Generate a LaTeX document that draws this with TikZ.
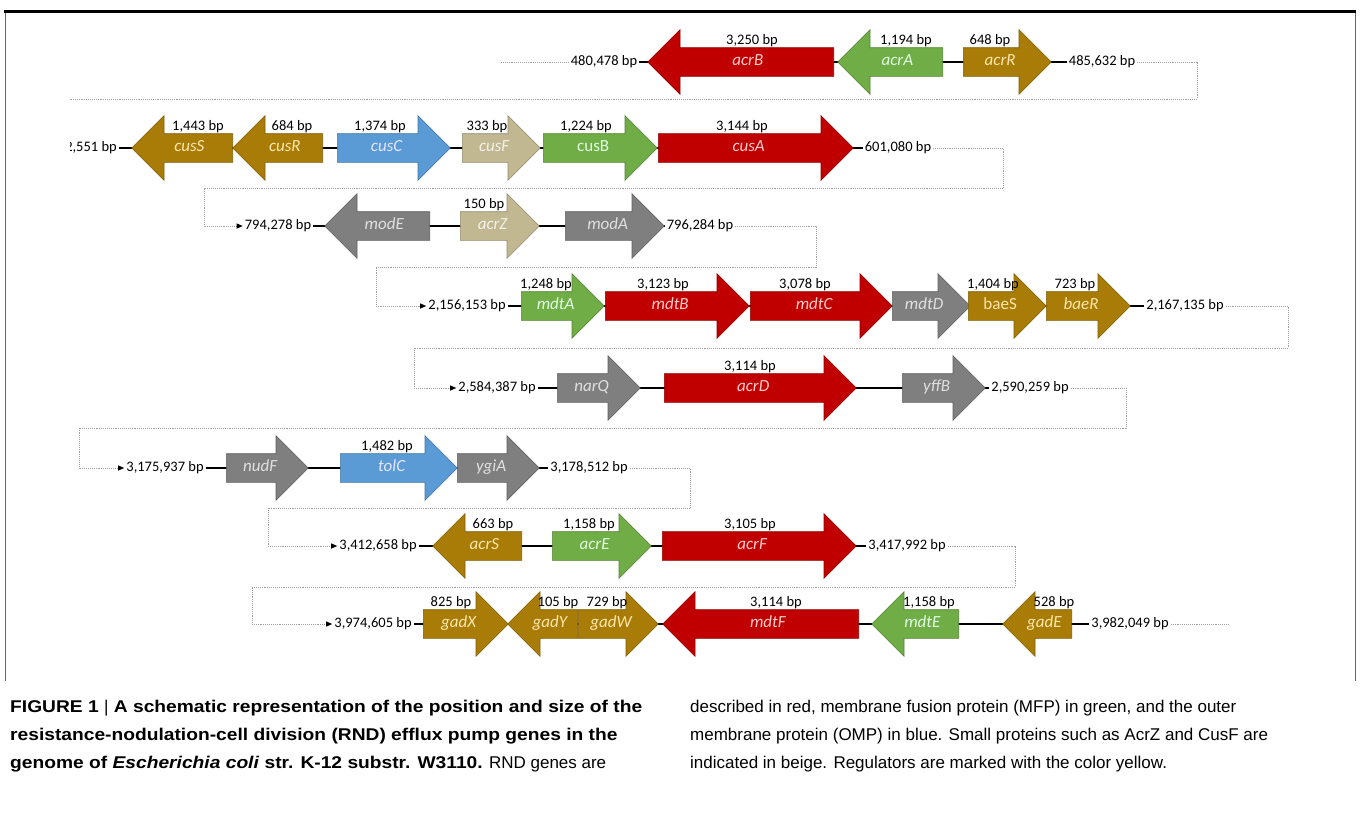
\documentclass[tikz,border=0pt]{standalone}
\usepackage{fontspec}
\setmainfont{Carlito}
\newfontfamily\capfont{Liberation Sans}[BoldFeatures={FakeStretch=1.13},BoldItalicFeatures={FakeStretch=1.13}]
\usetikzlibrary{shapes,arrows.meta,positioning}

\definecolor{rndred}{RGB}{192,0,0}
\definecolor{mfpgreen}{RGB}{112,173,71}
\definecolor{reggold}{RGB}{168,124,6}
\definecolor{ompblue}{RGB}{91,155,213}
\definecolor{smallbeige}{RGB}{193,184,146}
\definecolor{othergrey}{RGB}{127,127,127}
\definecolor{linkgrey}{RGB}{160,160,160}

\begin{document}
\begin{tikzpicture}[
    x=1pt,y=-1pt,
    every node/.style={font=\fontsize{14.5}{16}\selectfont},
    locus/.style={inner sep=2pt},
    bplabel/.style={inner sep=1pt},
    gene/.style={single arrow,single arrow head extend=18pt,minimum width=64pt,
        inner xsep=0pt,inner ysep=8pt,text height=9pt,text depth=3pt,
        anchor=tail,line width=0.6pt,font=\itshape\fontsize{17}{17}\selectfont},
    upright/.style={font=\fontsize{17}{17}\selectfont},
    back/.style={shape border rotate=180},
    rnd/.style={gene,fill=rndred,draw=rndred!75!black,text=red!20!white},
    mfp/.style={gene,fill=mfpgreen,draw=mfpgreen!75!black,text=green!12!white},
    reg/.style={gene,fill=reggold,draw=reggold!75!black,text=yellow!45!orange!30!white},
    omp/.style={gene,fill=ompblue,draw=ompblue!75!black,text=blue!10!white},
    minor/.style={gene,fill=smallbeige,draw=smallbeige!75!black,text=smallbeige!20!white},
    other/.style={gene,fill=othergrey,draw=othergrey!75!black,text=black!12},
    dna/.style={line width=2.5pt,black},
    link/.style={densely dotted,draw=linkgrey,line width=0.9pt},
    linkarrow/.style={link,-{Triangle[length=6pt,width=5pt,black]}},
    captext/.style={anchor=base west,inner sep=0pt,font=\capfont\fontsize{17}{19}\selectfont}
]
\useasboundingbox (0,0) rectangle (1360,833);

% =====================
% FRAME
% =====================
\draw[line width=0.8pt,black!60] (5,11) -- (5,681);
\draw[line width=0.8pt,black!60] (1355,11) -- (1355,681);
\draw[line width=3pt] (4,11) -- (1356,11);

% =====================
% POSITIONS
% =====================
\node[locus] (p1a) at (604,62) {480,478 bp};
\node[locus] (p1b) at (1102,62) {485,632 bp};
\begin{scope}
\clip (70,120) rectangle (200,180);
\node[locus,anchor=east] (p2a) at (119,148) {2,551 bp};
\end{scope}
\node[locus] (p2b) at (898,148) {601,080 bp};
\node[locus] (p3a) at (278,226) {794,278 bp};
\node[locus] (p3b) at (700,226) {796,284 bp};
\node[locus] (p4a) at (467,306) {2,156,153 bp};
\node[locus] (p4b) at (1185,306) {2,167,135 bp};
\node[locus] (p5a) at (497,388) {2,584,387 bp};
\node[locus] (p5b) at (1030,388) {2,590,259 bp};
\node[locus] (p6a) at (165,468) {3,175,937 bp};
\node[locus] (p6b) at (589,468) {3,178,512 bp};
\node[locus] (p7a) at (378,546) {3,412,658 bp};
\node[locus] (p7b) at (907,546) {3,417,992 bp};
\node[locus] (p8a) at (373,624) {3,974,605 bp};
\node[locus] (p8b) at (1130,624) {3,982,049 bp};

% DNA strands
\draw[dna] (p1a) -- (p1b);
\draw[dna] (p2a) -- (p2b);
\draw[dna] (p3a) -- (p3b);
\draw[dna] (p4a) -- (p4b);
\draw[dna] (p5a) -- (p5b);
\draw[dna] (p6a) -- (p6b);
\draw[dna] (p7a) -- (p7b);
\draw[dna] (p8a) -- (p8b);

% =====================
% GENES
% =====================
% row 1
\node[rnd,back,minimum height=186pt] (acrB) at (834,62) {acrB};
\node[mfp,back,minimum height=105pt] (acrA) at (943,62) {acrA};
\node[reg,minimum height=88pt] (acrR) at (963,62) {acrR};

% row 2
\node[reg,back,minimum height=101pt] (cusS) at (233,148) {cusS};
\node[reg,back,minimum height=90pt] (cusR) at (323,148) {cusR};
\node[omp,minimum height=113pt] (cusC) at (337,148) {cusC};
\node[minor,minimum height=78pt] (cusF) at (462,148) {cusF};
\node[mfp,upright,minimum height=114pt] (cusB) at (543,148) {cusB};
\node[rnd,minimum height=195pt] (cusA) at (658,148) {cusA};

% row 3
\node[other,back,minimum height=105pt] (modE) at (430,226) {modE};
\node[minor,minimum height=79pt] (acrZ) at (460,226) {acrZ};
\node[other,minimum height=99pt] (modA) at (565,226) {modA};

% row 4
\node[mfp,minimum height=83pt] (mdtA) at (521,306) {mdtA};
\node[rnd,minimum height=144pt] (mdtB) at (605,306) {mdtB};
\node[rnd,minimum height=142pt] (mdtC) at (750,306) {mdtC};
\node[other,minimum height=78pt] (mdtD) at (892,306) {mdtD};
\node[reg,upright,minimum height=78pt] (baeS) at (968,306) {baeS};
\node[reg,minimum height=84pt] (baeR) at (1046,306) {baeR};

% row 5
\node[other,minimum height=83pt] (narQ) at (557,388) {narQ};
\node[rnd,minimum height=192pt] (acrD) at (664,388) {acrD};
\node[other,minimum height=83pt] (yffB) at (902,388) {yffB};

% row 6
\node[other,minimum height=82pt] (nudF) at (226,468) {nudF};
\node[omp,minimum height=117pt] (tolC) at (340,468) {tolC};
\node[other,minimum height=82pt] (ygiA) at (457,468) {ygiA};

% row 7
\node[reg,back,minimum height=89pt] (acrS) at (522,546) {acrS};
\node[mfp,minimum height=99pt] (acrE) at (552,546) {acrE};
\node[rnd,minimum height=194pt] (acrF) at (662,546) {acrF};

% row 8
\node[reg,minimum height=85pt] (gadX) at (423,624) {gadX};
\node[reg,back,minimum height=70pt] (gadY) at (578,624) {gadY};
\node[reg,minimum height=80pt] (gadW) at (578,624) {gadW};
\node[rnd,back,minimum height=196pt] (mdtF) at (859,624) {mdtF};
\node[mfp,back,minimum height=87pt] (mdtE) at (959,624) {mdtE};
\node[reg,back,minimum height=69pt] (gadE) at (1072,624) {gadE};

% =====================
% SIZES
% =====================
\node[bplabel] (acrBbp) at (752,41) {3,250 bp};
\node[bplabel] (acrAbp) at (906,41) {1,194 bp};
\node[bplabel] (acrRbp) at (990,41) {648 bp};
\node[bplabel] (cusSbp) at (198,127) {1,443 bp};
\node[bplabel] (cusRbp) at (292,127) {684 bp};
\node[bplabel] (cusCbp) at (380,127) {1,374 bp};
\node[bplabel] (cusFbp) at (487,127) {333 bp};
\node[bplabel] (cusBbp) at (586,127) {1,224 bp};
\node[bplabel] (cusAbp) at (742,127) {3,144 bp};
\node[bplabel] (acrZbp) at (484,205) {150 bp};
\node[bplabel] (mdtAbp) at (546,285) {1,248 bp};
\node[bplabel] (mdtBbp) at (663,285) {3,123 bp};
\node[bplabel] (mdtCbp) at (805,285) {3,078 bp};
\node[bplabel] (baeSbp) at (993,285) {1,404 bp};
\node[bplabel] (baeRbp) at (1075,285) {723 bp};
\node[bplabel] (acrDbp) at (750,367) {3,114 bp};
\node[bplabel] (tolCbp) at (387,447) {1,482 bp};
\node[bplabel] (acrSbp) at (493,525) {663 bp};
\node[bplabel] (acrEbp) at (589,525) {1,158 bp};
\node[bplabel] (acrFbp) at (750,525) {3,105 bp};
\node[bplabel] (gadXbp) at (451,603) {825 bp};
\node[bplabel] (gadYbp) at (558,603) {105 bp};
\node[bplabel] (gadWbp) at (607,603) {729 bp};
\node[bplabel] (mdtFbp) at (776,603) {3,114 bp};
\node[bplabel] (mdtEbp) at (929,603) {1,158 bp};
\node[bplabel] (gadEbp) at (1054,603) {528 bp};

% =====================
% LINKS BETWEEN ROWS
% =====================
\coordinate (s1) at (501,62);
\coordinate (k1) at (1197,99);
\coordinate (k1e) at (70,99);
\coordinate (k2) at (1003,188);
\coordinate (k2e) at (204,188);
\coordinate (k3) at (816,267);
\coordinate (k3e) at (376,267);
\coordinate (k4) at (1288,348);
\coordinate (k4e) at (414,348);
\coordinate (k5) at (1126,428);
\coordinate (k5e) at (79,428);
\coordinate (k6) at (690,508);
\coordinate (k6e) at (268,508);
\coordinate (k7) at (1015,587);
\coordinate (k7e) at (252,587);
\coordinate (e8) at (1229,624);

\draw[link] (s1) -- (p1a);
\draw[link] (p1b) -| (k1) -- (k1e);
\draw[linkarrow] (p2b) -| (k2) -- (k2e) |- (p3a);
\draw[linkarrow] (p3b) -| (k3) -- (k3e) |- (p4a);
\draw[linkarrow] (p4b) -| (k4) -- (k4e) |- (p5a);
\draw[linkarrow] (p5b) -| (k5) -- (k5e) |- (p6a);
\draw[linkarrow] (p6b) -| (k6) -- (k6e) |- (p7a);
\draw[linkarrow] (p7b) -| (k7) -- (k7e) |- (p8a);
\draw[link] (p8b) -- (e8);

% =====================
% CAPTION
% =====================
\node[captext] (cap1) at (10,712) {\bfseries FIGURE 1 {\mdseries|} A schematic representation of the position and size of the};
\node[captext] (cap2) at (10,740) {\bfseries resistance-nodulation-cell division (RND) efflux pump genes in the};
\node[captext] (cap3) at (10,768) {\textbf{genome of \textit{Escherichia coli} str. K-12 substr. W3110.} RND genes are};
\node[captext] (cap4) at (690,712) {described in red, membrane fusion protein (MFP) in green, and the outer};
\node[captext] (cap5) at (690,740) {membrane protein (OMP) in blue. Small proteins such as AcrZ and CusF are};
\node[captext] (cap6) at (690,768) {indicated in beige. Regulators are marked with the color yellow.};

\end{tikzpicture}
\end{document}
